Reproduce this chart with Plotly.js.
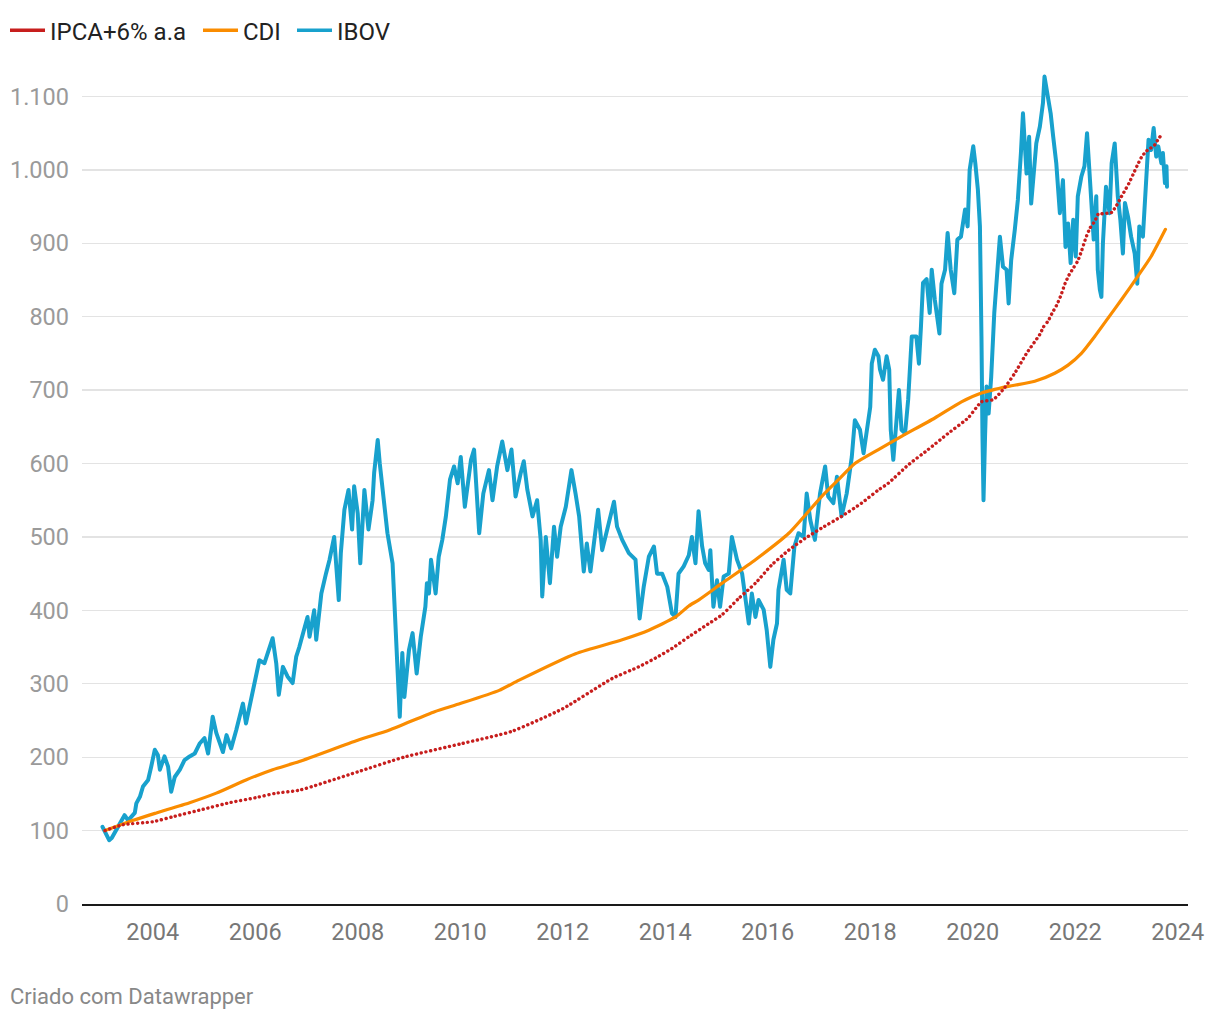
<!DOCTYPE html>
<html>
<head>
<meta charset="utf-8">
<script src="https://cdn.plot.ly/plotly-3.0.1.min.js"></script>
<style>
html,body{margin:0;padding:0;background:#fff;}
#chart{width:1220px;height:1020px;}
#chart .cartesianlayer path.js-line{stroke-linecap:round;stroke-linejoin:round;}
</style>
</head>
<body>
<div id="chart"></div>
<script>
// ---- Data (decimal years, values indexed to 100) ----
const seriesNames = ["IPCA+6% a.a", "CDI", "IBOV"];

const ipcaYears = [2003.07,2003.42,2004.0,2004.4,2004.98,2005.5,2006.02,2006.41,2006.86,2008.0,2008.9,2010.0,2011.0,2012.0,2012.96,2013.48,2013.81,2014.13,2014.46,2014.85,2015.11,2015.43,2015.76,2016.08,2016.41,2016.73,2017.05,2017.44,2017.83,2018.16,2018.35,2018.74,2019.13,2019.52,2019.91,2020.17,2020.40,2020.62,2020.82,2021.05,2021.31,2021.38,2021.47,2021.55,2021.64,2021.72,2021.80,2021.88,2021.97,2022.05,2022.12,2022.21,2022.29,2022.38,2022.46,2022.54,2022.63,2022.71,2022.81,2022.88,2022.97,2023.05,2023.13,2023.21,2023.29,2023.38,2023.46,2023.55,2023.63,2023.71];
const ipcaValues = [100,108,112,119,129,138,145,151,155,180,200,218,235,266,307,323,335,348,364,382,394,416,437,462,482,498,512,528,546,564,573,598,619,641,662,684,687,703,723,750,776,786,794,805,816,829,845,857,867,876,889,908,921,930,941,940,941,942,952,961,972,982,994,1006,1017,1025,1029,1034,1043,1050];

const cdiYears = [2003.07,2003.62,2004.07,2004.72,2005.24,2005.82,2006.34,2006.86,2008.0,2008.62,2009.5,2010.0,2010.76,2011.15,2012.25,2013.16,2013.68,2014.2,2014.46,2014.65,2015.11,2015.76,2016.41,2017.05,2017.38,2017.70,2018.16,2018.61,2019.26,2019.78,2020.17,2020.69,2021.21,2021.60,2021.86,2022.12,2022.38,2022.64,2022.90,2023.22,2023.48,2023.76];
const cdiValues = [100,114,124,138,151,169,183,194,223,237,262,273,291,305,341,360,373,391,406,414,437,469,505,555,578,600,619,637,662,684,696,705,712,723,734,750,773,798,823,855,882,919];

const ibovYears = [2003.02,2003.07,2003.15,2003.20,2003.29,2003.39,2003.45,2003.52,2003.59,2003.65,2003.68,2003.75,2003.81,2003.91,2003.97,2004.04,2004.10,2004.14,2004.23,2004.30,2004.36,2004.43,2004.53,2004.62,2004.72,2004.82,2004.92,2005.01,2005.08,2005.17,2005.24,2005.37,2005.44,2005.53,2005.63,2005.76,2005.82,2005.95,2006.02,2006.08,2006.18,2006.25,2006.34,2006.41,2006.46,2006.54,2006.63,2006.73,2006.80,2006.86,2006.96,2007.02,2007.06,2007.15,2007.19,2007.29,2007.38,2007.45,2007.54,2007.63,2007.67,2007.74,2007.82,2007.89,2007.93,2008.00,2008.05,2008.13,2008.21,2008.29,2008.32,2008.39,2008.43,2008.52,2008.58,2008.68,2008.73,2008.80,2008.82,2008.87,2008.91,2009.00,2009.07,2009.15,2009.23,2009.32,2009.35,2009.39,2009.43,2009.52,2009.58,2009.65,2009.72,2009.80,2009.88,2009.95,2010.01,2010.09,2010.21,2010.27,2010.37,2010.45,2010.56,2010.63,2010.72,2010.82,2010.92,2011.00,2011.08,2011.18,2011.24,2011.31,2011.41,2011.50,2011.57,2011.60,2011.67,2011.75,2011.83,2011.89,2011.96,2012.06,2012.17,2012.25,2012.32,2012.41,2012.47,2012.54,2012.63,2012.69,2012.77,2012.87,2012.93,2013.00,2013.06,2013.16,2013.29,2013.42,2013.50,2013.58,2013.68,2013.78,2013.84,2013.94,2014.04,2014.13,2014.20,2014.26,2014.36,2014.46,2014.52,2014.59,2014.65,2014.72,2014.78,2014.85,2014.88,2014.94,2015.01,2015.07,2015.14,2015.24,2015.30,2015.40,2015.50,2015.56,2015.63,2015.69,2015.76,2015.82,2015.92,2015.98,2016.02,2016.05,2016.11,2016.18,2016.21,2016.31,2016.37,2016.44,2016.52,2016.60,2016.70,2016.76,2016.83,2016.92,2017.02,2017.12,2017.18,2017.28,2017.35,2017.44,2017.54,2017.64,2017.70,2017.80,2017.87,2017.93,2018.00,2018.03,2018.09,2018.16,2018.19,2018.25,2018.32,2018.37,2018.40,2018.45,2018.51,2018.56,2018.61,2018.68,2018.74,2018.81,2018.90,2018.95,2018.99,2019.03,2019.10,2019.16,2019.20,2019.26,2019.35,2019.39,2019.46,2019.51,2019.57,2019.64,2019.70,2019.77,2019.85,2019.90,2019.94,2020.01,2020.05,2020.10,2020.14,2020.15,2020.17,2020.19,2020.21,2020.24,2020.27,2020.31,2020.36,2020.42,2020.46,2020.53,2020.59,2020.66,2020.70,2020.75,2020.82,2020.88,2020.94,2020.98,2021.05,2021.10,2021.14,2021.20,2021.24,2021.31,2021.37,2021.40,2021.47,2021.52,2021.57,2021.63,2021.70,2021.76,2021.81,2021.86,2021.91,2021.96,2022.01,2022.05,2022.12,2022.18,2022.23,2022.28,2022.31,2022.36,2022.41,2022.44,2022.48,2022.51,2022.54,2022.60,2022.67,2022.71,2022.77,2022.83,2022.88,2022.93,2022.97,2023.03,2023.09,2023.16,2023.21,2023.25,2023.32,2023.36,2023.40,2023.43,2023.48,2023.53,2023.58,2023.62,2023.68,2023.71,2023.75,2023.78,2023.79];
const ibovValues = [105,97,87,90,101,114,121,114,119,124,137,146,160,169,187,210,203,183,201,187,153,173,183,196,201,205,219,226,205,255,233,207,230,212,237,273,246,287,310,332,328,342,362,328,285,323,310,301,337,350,378,391,364,400,360,423,450,469,500,414,478,537,564,510,569,532,464,564,510,550,587,632,600,541,505,464,396,305,255,342,282,346,369,314,364,405,437,423,469,423,473,496,528,578,596,573,609,541,605,619,505,559,591,550,596,630,591,619,555,587,603,564,528,550,496,419,500,437,514,473,514,541,591,559,528,453,491,453,510,537,482,510,532,548,514,496,478,469,389,432,473,487,450,450,432,396,391,450,460,475,500,464,535,487,464,455,482,405,441,405,446,450,500,469,450,419,382,423,391,414,401,373,346,323,360,382,428,469,428,423,487,505,500,559,523,496,559,596,555,546,582,528,559,609,659,646,614,646,677,736,755,746,728,714,746,728,646,605,664,700,646,641,687,773,773,736,787,846,851,805,864,823,777,845,864,914,864,832,905,909,946,923,1000,1032,1009,973,923,891,773,637,550,637,705,668,718,805,845,909,868,864,818,877,918,959,1023,1077,995,1045,954,1009,1036,1059,1091,1127,1100,1077,1045,1009,941,986,895,927,873,932,882,964,991,1005,1050,986,954,905,964,864,837,827,900,977,941,1009,1036,964,932,886,955,936,909,886,845,923,909,955,995,1041,1027,1057,1018,1032,1009,1023,982,1005,977];

const xTickVals = [2004,2006,2008,2010,2012,2014,2016,2018,2020,2022,2024];
const xTickText = ["2004","2006","2008","2010","2012","2014","2016","2018","2020","2022","2024"];
const yTickVals = [0,100,200,300,400,500,600,700,800,900,1000,1100];
const yTickText = ["0","100","200","300","400","500","600","700","800","900","1.000","1.100"];

const colors = {ipca:"#c71e1d", cdi:"#fa8c00", ibov:"#18a1cd"};

const traces = [
  {x: ibovYears, y: ibovValues, type:"scatter", mode:"lines", name: seriesNames[2], showlegend:false,
   line:{color:colors.ibov, width:4}, hoverinfo:"skip"},
  {x: cdiYears, y: cdiValues, type:"scatter", mode:"lines", name: seriesNames[1], showlegend:false,
   line:{color:colors.cdi, width:3.2, shape:"spline", smoothing:0.6}, hoverinfo:"skip"},
  {x: ipcaYears, y: ipcaValues, type:"scatter", mode:"lines", name: seriesNames[0], showlegend:false,
   line:{color:colors.ipca, width:3.4, dash:"0.1px,4.7px", shape:"spline", smoothing:0.5}, hoverinfo:"skip"},
  // legend entries (solid swatches), one legend box each
  {x:[null], y:[null], type:"scatter", mode:"lines", name: seriesNames[0], legend:"legend", line:{color:colors.ipca, width:3.5}},
  {x:[null], y:[null], type:"scatter", mode:"lines", name: seriesNames[1], legend:"legend2", line:{color:colors.cdi, width:3.5}},
  {x:[null], y:[null], type:"scatter", mode:"lines", name: seriesNames[2], legend:"legend3", line:{color:colors.ibov, width:3.5}}
];

const legendBase = {orientation:"h", xref:"container", yref:"container", y:0.992, xanchor:"left", yanchor:"top",
                    font:{size:24, color:"#222"}, itemwidth:35, bgcolor:"rgba(0,0,0,0)"};

const layout = {
  width:1220, height:1020,
  paper_bgcolor:"#ffffff", plot_bgcolor:"#ffffff",
  font:{family:"Roboto, 'Noto Sans', sans-serif", size:22, color:"#222"},
  margin:{l:82, r:32, t:70, b:116, pad:0},
  showlegend:true,
  legend:Object.assign({}, legendBase, {x:5/1220}),
  legend2:Object.assign({}, legendBase, {x:198/1220}),
  legend3:Object.assign({}, legendBase, {x:292/1220}),
  xaxis:{type:"linear", range:[2002.62, 2024.2], tickvals:xTickVals, ticktext:xTickText,
         showgrid:false, zeroline:false, showline:true, linecolor:"#1a1a1a", linewidth:2,
         ticks:"", ticklabelstandoff:6, tickfont:{size:23.5, color:"#777777"}, fixedrange:true},
  yaxis:{range:[0, 1136], tickvals:yTickVals, ticktext:yTickText,
         showgrid:true, gridcolor:"#e3e3e3", gridwidth:1.3, zeroline:false, showline:false,
         ticks:"", ticklabelstandoff:12, tickfont:{size:23.5, color:"#9a9a9a"}, fixedrange:true},
  annotations:[
    {text:"Criado com Datawrapper", xref:"paper", yref:"paper", x:-0.0669, y:-0.1115,
     xanchor:"left", yanchor:"middle", showarrow:false, font:{size:22, color:"#888888"}}
  ]
};

Plotly.newPlot("chart", traces, layout, {displayModeBar:false, staticPlot:true});
</script>
</body>
</html>
